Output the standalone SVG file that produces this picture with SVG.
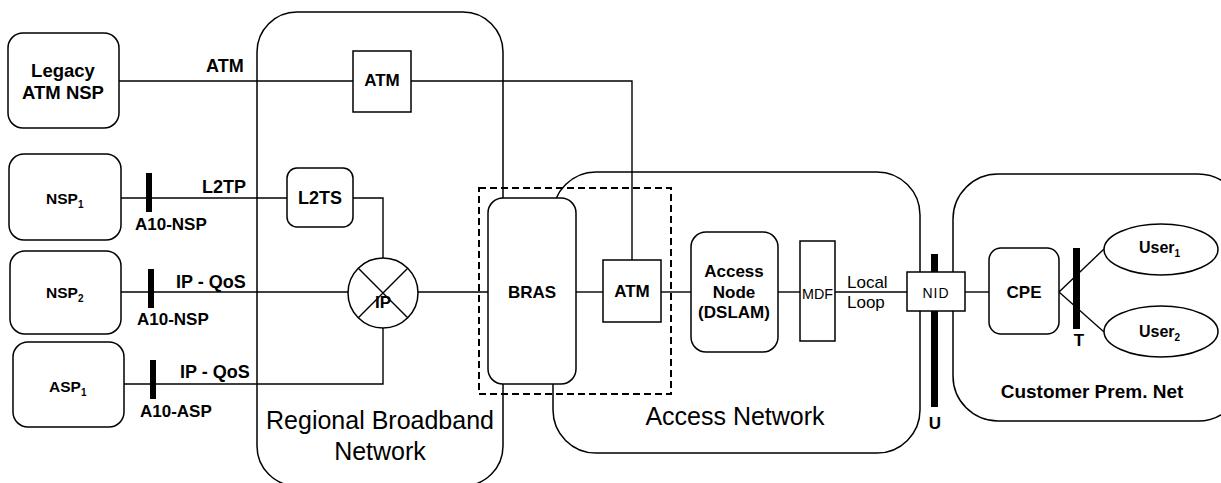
<svg xmlns="http://www.w3.org/2000/svg" width="1221" height="483" viewBox="0 0 1221 483">
<style>
.bx{fill:#fff;stroke:#000;stroke-width:1.5}
.rg{fill:none;stroke:#000;stroke-width:1.5}
.ln{fill:none;stroke:#000;stroke-width:1.4}
.bar{fill:#000}
text{font-family:"Liberation Sans",Arial,Helvetica,sans-serif;fill:#000}
.b{font-weight:bold;font-size:17px}
.c{text-anchor:middle}
.big{font-size:25px;text-anchor:middle}
.sub{font-size:10px}
</style>
<rect width="1221" height="483" fill="#fff"/>
<g id="regions">
<rect id="regional" class="rg" x="257" y="12" width="246" height="474" rx="40"/>
<rect id="access-net" class="rg" x="553" y="172" width="367" height="281" rx="43"/>
<rect id="customer-net" class="rg" x="953" y="174" width="290" height="247" rx="45"/>
</g>
<g id="connectors">
<path class="ln" d="M119,81 H353"/>
<path class="ln" d="M411,81 H632 V260"/>
<path class="ln" d="M121,198 H287"/>
<path class="ln" d="M353,198 H383 V258"/>
<path class="ln" d="M121,292 H348"/>
<path class="ln" d="M124,384 H383 V328"/>
<path class="ln" d="M418,292 H488"/>
<path class="ln" d="M576,292 H603"/>
<path class="ln" d="M661,292 H691"/>
<path class="ln" d="M778,292 H800"/>
<path class="ln" d="M835,292 H907"/>
<path class="ln" d="M965,292 H989"/>
<path class="ln" d="M1059,292 L1104,249"/>
<path class="ln" d="M1059,292 L1104,332"/>
</g>
<g id="link-labels">
<text class="b" x="206" y="72" style="font-size:18px">ATM</text>
<text class="b" x="202" y="193" style="font-size:18px">L2TP</text>
<text class="b" x="176" y="288" style="font-size:18px">IP - QoS</text>
<text class="b" x="180" y="378" style="font-size:18px">IP - QoS</text>
<text x="847" y="288" style="font-size:17px">Local</text>
<text x="847" y="308" style="font-size:17px">Loop</text>
</g>
<g id="ref-a10-nsp-1"><rect class="bar" x="146" y="173" width="6" height="39"/><text class="b" x="135" y="230">A10-NSP</text></g>
<g id="ref-a10-nsp-2"><rect class="bar" x="148" y="269" width="6" height="39"/><text class="b" x="137" y="325">A10-NSP</text></g>
<g id="ref-a10-asp"><rect class="bar" x="150" y="360" width="6" height="39"/><text class="b" x="140" y="417">A10-ASP</text></g>
<g id="legacy-atm-nsp"><rect class="bx" x="8" y="33" width="111" height="95" rx="15"/><text class="b c" x="63" y="77" style="font-size:18.5px">Legacy</text><text class="b c" x="63" y="99" style="font-size:18.5px">ATM NSP</text></g>
<g id="nsp1"><rect class="bx" x="9" y="154" width="112" height="86" rx="15"/><text class="b" x="46" y="204" style="font-size:15.5px">NSP<tspan class="sub" dy="4">1</tspan></text></g>
<g id="nsp2"><rect class="bx" x="10" y="251" width="111" height="83" rx="15"/><text class="b" x="46" y="298" style="font-size:15.5px">NSP<tspan class="sub" dy="4">2</tspan></text></g>
<g id="asp1"><rect class="bx" x="13" y="342" width="111" height="85" rx="15"/><text class="b" x="49" y="392" style="font-size:15.5px">ASP<tspan class="sub" dy="4">1</tspan></text></g>
<g id="atm-regional"><rect class="bx" x="353" y="51" width="58" height="61"/><text class="b c" x="382" y="86">ATM</text></g>
<g id="l2ts"><rect class="bx" x="287" y="168" width="66" height="59" rx="10"/><text class="b c" x="320" y="204" style="font-size:18px">L2TS</text></g>
<g id="ip"><circle class="bx" cx="383" cy="293" r="35"/><path class="ln" d="M358.3,268.3 L407.7,317.7 M407.7,268.3 L358.3,317.7"/><text class="b c" x="383" y="308">IP</text></g>
<g id="bras"><rect class="bx" x="488" y="198" width="88" height="186" rx="15"/><text class="b c" x="532" y="298">BRAS</text></g>
<g id="atm-access"><rect class="bx" x="603" y="260" width="58" height="62"/><text class="b c" x="632" y="297">ATM</text></g>
<g id="bras-atm-group"><rect x="479" y="188" width="192" height="206" fill="none" stroke="#000" stroke-width="2" stroke-dasharray="7,4"/></g>
<g id="access-node"><rect class="bx" x="691" y="232" width="87" height="120" rx="15"/><text class="b c" x="734" y="277">Access</text><text class="b c" x="734" y="298">Node</text><text class="b c" x="734" y="318">(DSLAM)</text></g>
<g id="mdf"><rect class="bx" x="800" y="241" width="35" height="100"/><text class="c" x="817.5" y="299" style="font-size:15px" textLength="31" lengthAdjust="spacingAndGlyphs">MDF</text></g>
<g id="ref-u"><rect class="bar" x="931" y="254" width="7" height="153"/><text class="b c" x="935" y="429">U</text></g>
<g id="nid"><rect class="bx" x="907" y="272" width="58" height="39"/><text class="c" x="936" y="298" style="font-size:14px;letter-spacing:1px">NID</text></g>
<g id="cpe"><rect class="bx" x="989" y="248" width="70" height="86" rx="12"/><text class="b c" x="1024" y="298">CPE</text></g>
<g id="ref-t"><rect class="bar" x="1073" y="248" width="7" height="81"/><text class="b c" x="1079" y="346">T</text></g>
<g id="user1"><ellipse class="bx" cx="1161" cy="249.5" rx="57" ry="25.5"/><text class="b" x="1139" y="253" style="font-size:16px">User<tspan class="sub" dy="4">1</tspan></text></g>
<g id="user2"><ellipse class="bx" cx="1161" cy="331.5" rx="57" ry="25.5"/><text class="b" x="1139" y="337" style="font-size:16px">User<tspan class="sub" dy="4">2</tspan></text></g>
<g id="region-labels">
<text class="big" x="380" y="429">Regional Broadband</text>
<text class="big" x="380" y="460">Network</text>
<text class="big" x="735" y="425">Access Network</text>
<text class="b c" x="1092" y="398" style="font-size:19px">Customer Prem. Net</text>
</g>
</svg>
